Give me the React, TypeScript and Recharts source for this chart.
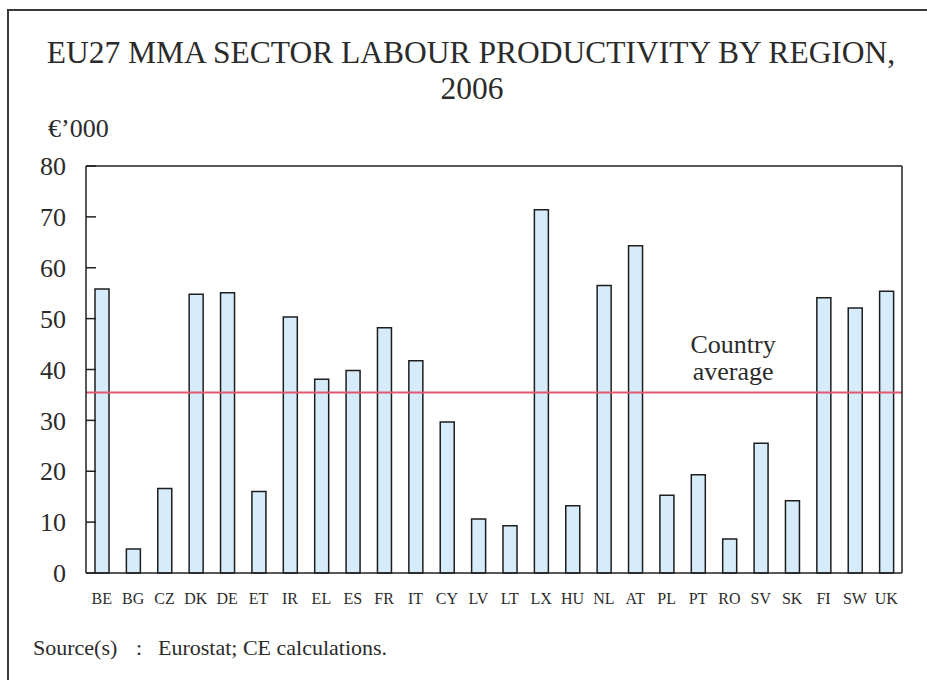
import React from "react";
import { BarChart, Bar, XAxis, YAxis, ReferenceLine } from "recharts";

const regions = ["BE","BG","CZ","DK","DE","ET","IR","EL","ES","FR","IT","CY","LV","LT","LX","HU","NL","AT","PL","PT","RO","SV","SK","FI","SW","UK"];
const productivity = [55.8,4.7,16.6,54.8,55.1,16.0,50.3,38.1,39.8,48.2,41.7,29.7,10.6,9.3,71.4,13.2,56.5,64.3,15.3,19.3,6.7,25.5,14.2,54.1,52.1,55.4];
const countryAverage = 35.5;
const yTicks = [0,10,20,30,40,50,60,70,80];
const yMax = 80;

const titleLine1 = "EU27 MMA SECTOR LABOUR PRODUCTIVITY BY REGION,";
const titleLine2 = "2006";
const unitLabel = "€’000";
const avgLabel = ["Country", "average"];
const sourceLabel = ["Source(s)", ":", "Eurostat; CE calculations."];

const data = regions.map((r, i) => ({ region: r, value: productivity[i] }));

const FONT = "Liberation Serif, Times New Roman, serif";
const TEXT = "#2b2b2b";

const AvgLabel = (props: any) => {
  const vb = props.viewBox || {};
  const cx = vb.x + vb.width * 0.793;
  return (
    <g>
      <text x={cx} y={vb.y - 39} textAnchor="middle" fontSize={26} fontFamily={FONT} style={{ fontFamily: FONT }} fill={TEXT}>{avgLabel[0]}</text>
      <text x={cx} y={vb.y - 12} textAnchor="middle" fontSize={26} fontFamily={FONT} style={{ fontFamily: FONT }} fill={TEXT}>{avgLabel[1]}</text>
    </g>
  );
};

export default function App() {
  return (
    <div style={{ position: "absolute", left: 0, top: 0, width: 927, height: 680, overflow: "hidden", background: "#fff", fontFamily: FONT }}>
      <svg width={927} height={680} style={{ position: "absolute", left: 0, top: 0, fontFamily: FONT }}>
        <rect x={8} y={10} width={960} height={720} fill="none" stroke="#3a3a3a" strokeWidth={2} />
        <text x={471} y={63} textAnchor="middle" fontSize={31.5} fill={TEXT}>{titleLine1}</text>
        <text x={472} y={99} textAnchor="middle" fontSize={31.5} fill={TEXT}>{titleLine2}</text>
        <text x={48} y={137} fontSize={26} fill={TEXT}>{unitLabel}</text>
        <text x={33} y={655} fontSize={22} fill={TEXT}>{sourceLabel[0]}</text>
        <text x={136} y={655} fontSize={22} fill={TEXT}>{sourceLabel[1]}</text>
        <text x={158} y={655} fontSize={22} fill={TEXT}>{sourceLabel[2]}</text>
      </svg>
      <div style={{ position: "absolute", left: 0, top: 0 }}>
        <BarChart
          width={927}
          height={680}
          data={data}
          margin={{ top: 166, right: 0, bottom: 0, left: 0 }}
          barSize={14}
          style={{ fontFamily: FONT }}
        >
          <XAxis
            dataKey="region"
            interval={0}
            tickLine={false}
            tickSize={0}
            tickMargin={20}
            height={107}
            axisLine={{ stroke: "#222", strokeWidth: 1.5 }}
            tick={{ fontSize: 16, fontFamily: FONT, fill: TEXT, style: { fontFamily: FONT } }}
          />
          <YAxis
            domain={[0, yMax]}
            ticks={yTicks}
            interval={0}
            width={86}
            tickSize={-10}
            tickMargin={30}
            tickLine={{ stroke: "#222", strokeWidth: 1.5 }}
            axisLine={{ stroke: "#222", strokeWidth: 1.5 }}
            tick={{ fontSize: 26, fontFamily: FONT, fill: TEXT, style: { fontFamily: FONT } }}
          />
          <YAxis
            yAxisId="right"
            orientation="right"
            domain={[0, yMax]}
            width={25}
            tick={false}
            tickLine={false}
            axisLine={{ stroke: "#222", strokeWidth: 1.5 }}
          />
          <Bar dataKey="value" fill="#d6ecfb" stroke="#1e1e1e" strokeWidth={1.5} isAnimationActive={false} />
          <ReferenceLine y={yMax} stroke="#222" strokeWidth={1.5} />
          <ReferenceLine y={countryAverage} stroke="#e2566f" strokeWidth={2} label={<AvgLabel />} />
        </BarChart>
      </div>
    </div>
  );
}
